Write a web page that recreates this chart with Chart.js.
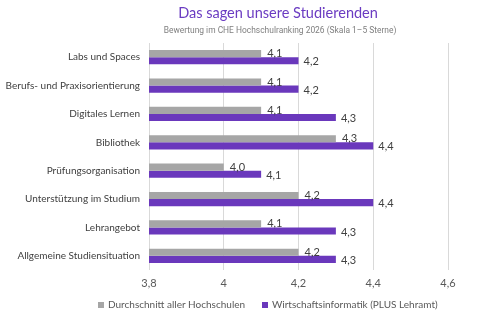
<!DOCTYPE html>
<html>
<head>
<meta charset="utf-8">
<script src="https://cdn.jsdelivr.net/npm/chart.js@4/dist/chart.umd.min.js"></script>
<style>
	html, body { margin: 0; padding: 0; background: #fff; }
	#wrap { width: 500px; height: 316px; }
</style>
</head>
<body>
<div id="wrap"><canvas id="chart" width="500" height="316"></canvas></div>
<script>
const categories = [
	'Labs und Spaces',
	'Berufs- und Praxisorientierung',
	'Digitales Lernen',
	'Bibliothek',
	'Prüfungsorganisation',
	'Unterstützung im Studium',
	'Lehrangebot',
	'Allgemeine Studiensituation'
];
const averageAll = [4.1, 4.1, 4.1, 4.3, 4.0, 4.2, 4.1, 4.2];
const wirtschaftsinformatik = [4.2, 4.2, 4.3, 4.4, 4.1, 4.4, 4.3, 4.3];
const seriesNames = ['Durchschnitt aller Hochschulen', 'Wirtschaftsinformatik (PLUS Lehramt)'];
const chartTitle = 'Das sagen unsere Studierenden';
const chartSubtitle = 'Bewertung im CHE Hochschulranking 2026 (Skala 1–5 Sterne)';

const grey = '#A6A6A6';
const purple = '#6A38BC';
const labelFont = 'Lato, "Open Sans", sans-serif';

// size a font so the text takes a given width (the original uses a narrower face)
function fitFont( ctx, text, family, width ) {
	ctx.font = '20px ' + family;
	const size = 20 * width / ctx.measureText( text ).width;
	ctx.font = size.toFixed( 2 ) + 'px ' + family;
}

// Title, subtitle, legend and bar-end values drawn by hand so they sit where the original has them.
const decorations = {
	id: 'decorations',
	afterDraw( chart ) {
		const ctx = chart.ctx;
		ctx.save();

		ctx.textAlign = 'center';
		ctx.textBaseline = 'middle';
		ctx.fillStyle = '#6B3CC2';
		fitFont( ctx, chartTitle, labelFont, 200 );
		ctx.fillText( chartTitle, 278, 13 );
		ctx.fillStyle = '#7F7F7F';
		fitFont( ctx, chartSubtitle, 'Roboto, sans-serif', 233 );
		ctx.fillText( chartSubtitle, 280, 31 );

		// legend
		ctx.textAlign = 'left';
		ctx.font = '10px ' + labelFont;
		const legendY = 305;
		const colors = [grey, purple];
		const starts = [98, 262];
		seriesNames.forEach( ( name, i ) => {
			ctx.fillStyle = colors[i];
			ctx.fillRect( starts[i], legendY - 3, 6, 6 );
			ctx.fillStyle = '#595959';
			ctx.fillText( name, starts[i] + 10, legendY );
		} );

		// value labels, German decimal comma
		ctx.font = '11px ' + labelFont;
		ctx.fillStyle = '#404040';
		chart.data.datasets.forEach( ( ds, i ) => {
			const meta = chart.getDatasetMeta( i );
			meta.data.forEach( ( bar, j ) => {
				const txt = ds.data[j].toFixed( 1 ).replace( '.', ',' );
				ctx.fillText( txt, bar.x + ( i === 0 ? 6 : 5 ), bar.y + ( i === 0 ? 0 : 1 ) );
			} );
		} );
		ctx.restore();
	}
};

new Chart( document.getElementById( 'chart' ), {
	type: 'bar',
	data: {
		labels: categories,
		datasets: [
			{ label: seriesNames[0], data: averageAll, backgroundColor: grey },
			{ label: seriesNames[1], data: wirtschaftsinformatik, backgroundColor: purple }
		]
	},
	options: {
		responsive: false,
		animation: false,
		indexAxis: 'y',
		categoryPercentage: 0.5,
		barPercentage: 1.0,
		layout: { padding: { left: 0, right: 52, top: 43, bottom: 26 } },
		scales: {
			x: {
				min: 3.8,
				max: 4.6,
				afterFit: ( axis ) => { axis.height = 20; },
				ticks: {
					stepSize: 0.2,
					color: '#595959',
					font: { size: 11, family: labelFont },
					padding: 7,
					callback: ( v ) => {
						const s = Math.round( v * 10 ) / 10;
						return String( s ).replace( '.', ',' );
					}
				},
				grid: { color: '#D9D9D9', drawTicks: false },
				border: { display: false }
			},
			y: {
				afterFit: ( axis ) => { axis.width = 149; },
				ticks: {
					color: '#404040',
					font: { size: 10, family: labelFont },
					padding: 9
				},
				grid: { display: false, drawTicks: false },
				border: { display: false }
			}
		},
		plugins: {
			title: { display: false },
			subtitle: { display: false },
			legend: { display: false },
			tooltip: { enabled: false }
		}
	},
	plugins: [ decorations ]
} );
</script>
</body>
</html>
